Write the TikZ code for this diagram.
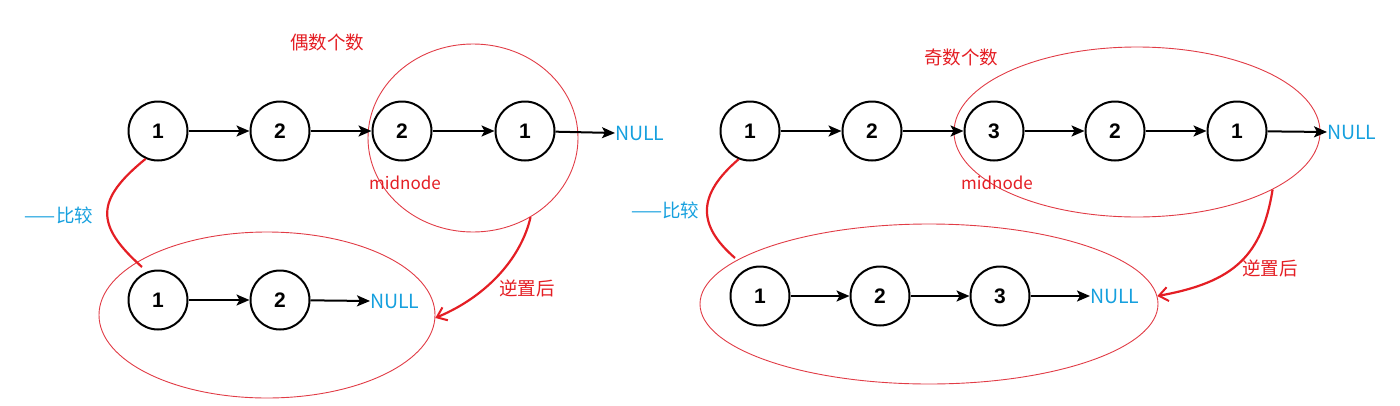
\documentclass[tikz,border=0pt]{standalone}
\usepackage{fontspec}
\setmainfont{Liberation Sans}
\newfontfamily\cjk{Noto Sans CJK SC}
\usetikzlibrary{arrows.meta,shapes.geometric}
\definecolor{myred}{RGB}{228,30,36}
\definecolor{ellred}{RGB}{225,60,70}
\definecolor{myblue}{RGB}{22,160,222}
\tikzset{
  lnode/.style={circle,draw=black,line width=2pt,minimum size=59pt,inner sep=0pt,
    font=\fontsize{21}{21}\selectfont\bfseries},
  link/.style={line width=2pt,-{Stealth[length=13pt,width=11pt,inset=3pt]}},
  nulltxt/.style={anchor=west,inner sep=0pt,text=myblue,font=\cjk\fontsize{19.5}{19.5}\selectfont},
  redtxt/.style={text=myred,inner sep=0pt,font=\cjk\fontsize{18.5}{18.5}\selectfont},
  bluetxt/.style={text=myblue,inner sep=0pt,font=\cjk\fontsize{18.5}{18.5}\selectfont},
  midtxt/.style={text=myred,inner sep=0pt,font=\cjk\fontsize{17}{17}\selectfont},
  ring/.style={ellipse,draw=ellred,line width=0.9pt,inner sep=0pt},
  cmpline/.style={draw=myred,line width=2.2pt},
  revarrow/.style={draw=myred,line width=2.2pt,-{Straight Barb[length=9pt,width=14pt,line width=2pt]}}
}
\begin{document}
\begin{tikzpicture}[x=1pt,y=-1pt]
\useasboundingbox (0,0) rectangle (1400,405);
% ---------- left: even ----------
\node[ring,minimum width=210pt,minimum height=188pt] (E1) at (473,138) {};
\node[ring,minimum width=336pt,minimum height=166pt] (E2) at (267,315) {};
\node[redtxt] (t1) at (327,42) {偶数个数};
\node[lnode] (a1) at (158,131) {1};
\node[lnode] (a2) at (280,131) {2};
\node[lnode] (a3) at (402,131) {2};
\node[lnode] (a4) at (525,131) {1};
\node[nulltxt] (an) at (615,133) {NULL};
\draw[link] (a1) -- (a2);
\draw[link] (a2) -- (a3);
\draw[link] (a3) -- (a4);
\draw[link] (a4) -- (an.west);
\node[midtxt] (m1) at (405,183) {midnode};
\node[lnode] (b1) at (158,300) {1};
\node[lnode] (b2) at (280,300) {2};
\node[nulltxt] (bn) at (370,301) {NULL};
\draw[link] (b1) -- (b2);
\draw[link] (b2) -- (bn.west);
\coordinate (c1e) at (142,267);
\draw[cmpline] (a1.-114) .. controls (95,200) and (95,225) .. (c1e);
\node[bluetxt] (k1) at (59,215) {——比较};
\draw[revarrow] (E1.-54.5) .. controls (522,255) and (490,295) .. (E2.-1);
\node[redtxt] (r1) at (527,288) {逆置后};
% ---------- right: odd ----------
\node[ring,minimum width=366pt,minimum height=170pt] (E3) at (1137,132) {};
\node[ring,minimum width=458pt,minimum height=160pt] (E4) at (929,304) {};
\node[redtxt] (t2) at (961,57) {奇数个数};
\node[lnode] (p1) at (750,131) {1};
\node[lnode] (p2) at (872,131) {2};
\node[lnode] (p3) at (994,131) {3};
\node[lnode] (p4) at (1115,131) {2};
\node[lnode] (p5) at (1237,131) {1};
\node[nulltxt] (pn) at (1327,132) {NULL};
\draw[link] (p1) -- (p2);
\draw[link] (p2) -- (p3);
\draw[link] (p3) -- (p4);
\draw[link] (p4) -- (p5);
\draw[link] (p5) -- (pn.west);
\node[midtxt] (m2) at (997,183) {midnode};
\node[lnode] (q1) at (760,296) {1};
\node[lnode] (q2) at (880,296) {2};
\node[lnode] (q3) at (1000,296) {3};
\node[nulltxt] (qn) at (1090,296) {NULL};
\draw[link] (q1) -- (q2);
\draw[link] (q2) -- (q3);
\draw[link] (q3) -- (qn.west);
\coordinate (c2e) at (735,258);
\draw[cmpline] (p1.-112) .. controls (697,195) and (697,225) .. (c2e);
\node[bluetxt] (k2) at (665,210) {——比较};
\draw[revarrow] (E3.-23.1) .. controls (1262,255) and (1235,282) .. (E4.2);
\node[redtxt] (r2) at (1270,268) {逆置后};
\end{tikzpicture}
\end{document}
